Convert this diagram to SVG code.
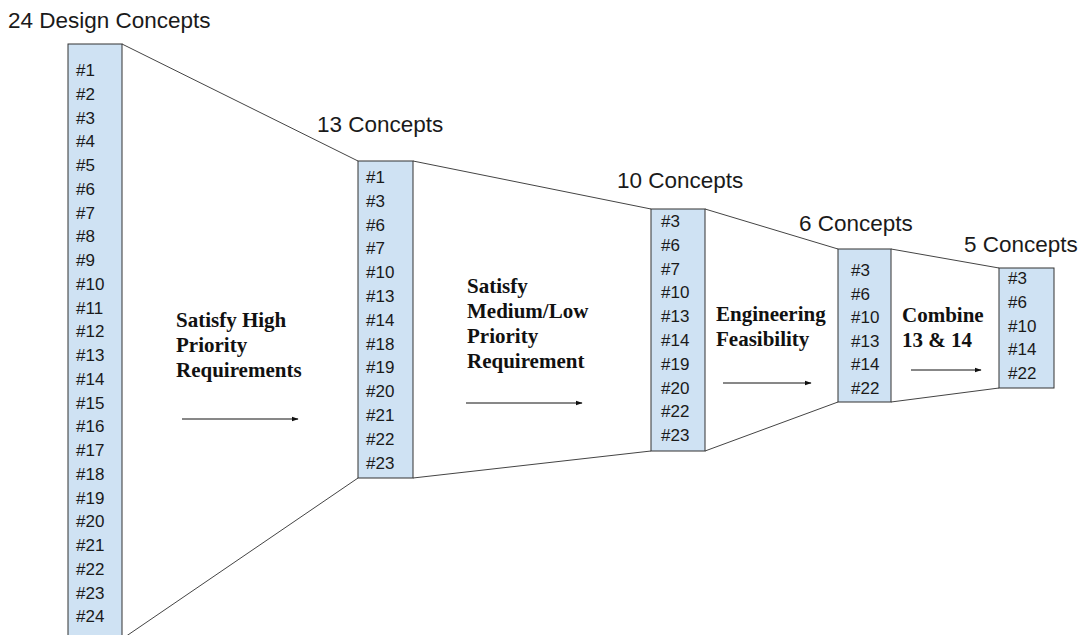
<svg xmlns="http://www.w3.org/2000/svg" width="1083" height="635" viewBox="0 0 1083 635">
  <style>
    .box { fill: #cfe2f3; stroke: #333; stroke-width: 1; }
    .item { font-family: "Liberation Sans", Arial, sans-serif; font-size: 17px; fill: #1a1a1a; }
    .title { font-family: "Liberation Sans", Arial, sans-serif; font-size: 22.5px; fill: #1a1a1a; }
    .step { font-family: "Liberation Serif", "Times New Roman", serif; font-size: 21px; font-weight: bold; fill: #111; }
    .funnel { stroke: #444; stroke-width: 1; fill: none; }
    .arrow { stroke: #111; stroke-width: 1; fill: none; marker-end: url(#head); }
  </style>
  <defs>
    <marker id="head" viewBox="0 0 10 10" refX="9" refY="5" markerWidth="7" markerHeight="7" markerUnits="userSpaceOnUse" orient="auto">
      <path d="M0,1.5 L10,5 L0,8.5 z" fill="#111"/>
    </marker>
  </defs>
  <rect width="1083" height="635" fill="#fff"/>

  <!-- funnel edges between stages, and the step arrows -->
  <g id="connectors">
    <line class="funnel" x1="122" y1="44" x2="358" y2="161"/>
    <line class="funnel" x1="122" y1="639" x2="358" y2="478"/>
    <line class="funnel" x1="413" y1="161" x2="651" y2="209"/>
    <line class="funnel" x1="413" y1="478" x2="651" y2="451"/>
    <line class="funnel" x1="705" y1="209" x2="838" y2="249"/>
    <line class="funnel" x1="705" y1="451" x2="838" y2="402"/>
    <line class="funnel" x1="891" y1="249" x2="999" y2="268"/>
    <line class="funnel" x1="891" y1="402" x2="999" y2="388"/>
    <line class="arrow" x1="182" y1="419" x2="298" y2="419"/>
    <line class="arrow" x1="466" y1="403" x2="582" y2="403"/>
    <line class="arrow" x1="723" y1="383" x2="811" y2="383"/>
    <line class="arrow" x1="911" y1="370" x2="981" y2="370"/>
  </g>

  <!-- stage 1: 24 concepts -->
  <g id="stage24">
    <text class="title" x="8" y="28">24 Design Concepts</text>
    <rect class="box" x="68" y="44" width="54" height="600"/>
    <text class="item">
      <tspan x="76" y="76">#1</tspan>
      <tspan x="76" y="99.75">#2</tspan>
      <tspan x="76" y="123.5">#3</tspan>
      <tspan x="76" y="147.25">#4</tspan>
      <tspan x="76" y="171">#5</tspan>
      <tspan x="76" y="194.75">#6</tspan>
      <tspan x="76" y="218.5">#7</tspan>
      <tspan x="76" y="242.25">#8</tspan>
      <tspan x="76" y="266">#9</tspan>
      <tspan x="76" y="289.75">#10</tspan>
      <tspan x="76" y="313.5">#11</tspan>
      <tspan x="76" y="337.25">#12</tspan>
      <tspan x="76" y="361">#13</tspan>
      <tspan x="76" y="384.75">#14</tspan>
      <tspan x="76" y="408.5">#15</tspan>
      <tspan x="76" y="432.25">#16</tspan>
      <tspan x="76" y="456">#17</tspan>
      <tspan x="76" y="479.75">#18</tspan>
      <tspan x="76" y="503.5">#19</tspan>
      <tspan x="76" y="527.25">#20</tspan>
      <tspan x="76" y="551">#21</tspan>
      <tspan x="76" y="574.75">#22</tspan>
      <tspan x="76" y="598.5">#23</tspan>
      <tspan x="76" y="622.25">#24</tspan>
    </text>
  </g>

  <!-- step 1 label -->
  <g id="step1">
    <text class="step">
      <tspan x="176" y="327">Satisfy High</tspan>
      <tspan x="176" y="352">Priority</tspan>
      <tspan x="176" y="377">Requirements</tspan>
    </text>
  </g>

  <!-- stage 2: 13 concepts -->
  <g id="stage13">
    <text class="title" x="317" y="132">13 Concepts</text>
    <rect class="box" x="358" y="161" width="55" height="317"/>
    <text class="item">
      <tspan x="366" y="183">#1</tspan>
      <tspan x="366" y="206.8">#3</tspan>
      <tspan x="366" y="230.6">#6</tspan>
      <tspan x="366" y="254.4">#7</tspan>
      <tspan x="366" y="278.2">#10</tspan>
      <tspan x="366" y="302">#13</tspan>
      <tspan x="366" y="325.8">#14</tspan>
      <tspan x="366" y="349.6">#18</tspan>
      <tspan x="366" y="373.4">#19</tspan>
      <tspan x="366" y="397.2">#20</tspan>
      <tspan x="366" y="421">#21</tspan>
      <tspan x="366" y="444.8">#22</tspan>
      <tspan x="366" y="468.6">#23</tspan>
    </text>
  </g>

  <!-- step 2 label -->
  <g id="step2">
    <text class="step">
      <tspan x="467" y="293">Satisfy</tspan>
      <tspan x="467" y="318">Medium/Low</tspan>
      <tspan x="467" y="343">Priority</tspan>
      <tspan x="467" y="368">Requirement</tspan>
    </text>
  </g>

  <!-- stage 3: 10 concepts -->
  <g id="stage10">
    <text class="title" x="617" y="188">10 Concepts</text>
    <rect class="box" x="651" y="209" width="54" height="242"/>
    <text class="item">
      <tspan x="661" y="227">#3</tspan>
      <tspan x="661" y="250.8">#6</tspan>
      <tspan x="661" y="274.6">#7</tspan>
      <tspan x="661" y="298.4">#10</tspan>
      <tspan x="661" y="322.2">#13</tspan>
      <tspan x="661" y="346">#14</tspan>
      <tspan x="661" y="369.8">#19</tspan>
      <tspan x="661" y="393.6">#20</tspan>
      <tspan x="661" y="417.4">#22</tspan>
      <tspan x="661" y="441.2">#23</tspan>
    </text>
  </g>

  <!-- step 3 label -->
  <g id="step3">
    <text class="step">
      <tspan x="716" y="321">Engineering</tspan>
      <tspan x="716" y="346">Feasibility</tspan>
    </text>
  </g>

  <!-- stage 4: 6 concepts -->
  <g id="stage6">
    <text class="title" x="799" y="231">6 Concepts</text>
    <rect class="box" x="838" y="249" width="53" height="153"/>
    <text class="item">
      <tspan x="851" y="276">#3</tspan>
      <tspan x="851" y="299.6">#6</tspan>
      <tspan x="851" y="323.2">#10</tspan>
      <tspan x="851" y="346.8">#13</tspan>
      <tspan x="851" y="370.4">#14</tspan>
      <tspan x="851" y="394">#22</tspan>
    </text>
  </g>

  <!-- step 4 label -->
  <g id="step4">
    <text class="step">
      <tspan x="902" y="322">Combine</tspan>
      <tspan x="902" y="347">13 &amp; 14</tspan>
    </text>
  </g>

  <!-- stage 5: 5 concepts -->
  <g id="stage5">
    <text class="title" x="964" y="252">5 Concepts</text>
    <rect class="box" x="999" y="268" width="55" height="120"/>
    <text class="item">
      <tspan x="1008" y="284">#3</tspan>
      <tspan x="1008" y="307.75">#6</tspan>
      <tspan x="1008" y="331.5">#10</tspan>
      <tspan x="1008" y="355.25">#14</tspan>
      <tspan x="1008" y="379">#22</tspan>
    </text>
  </g>
</svg>
